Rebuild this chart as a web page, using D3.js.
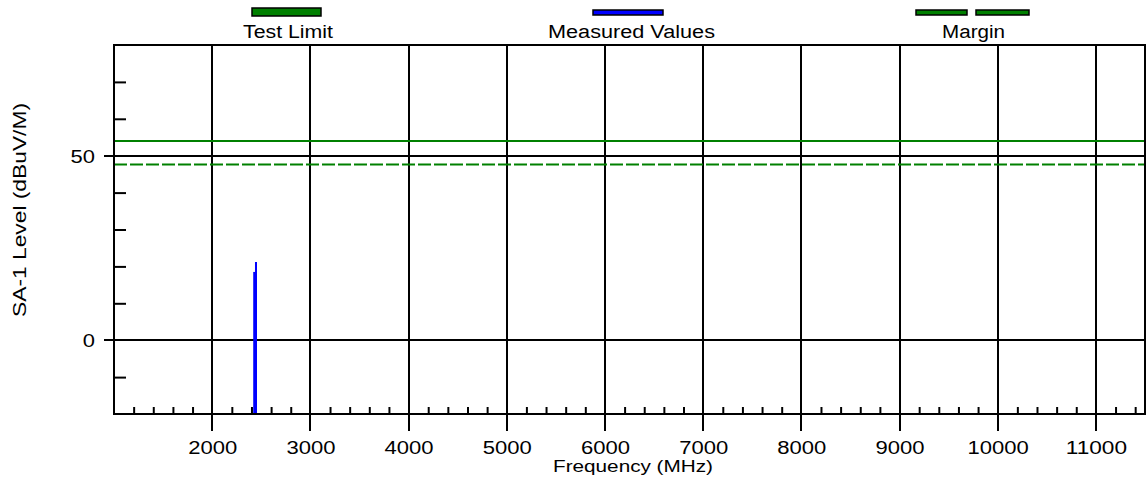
<!DOCTYPE html>
<html>
<head>
  <script src="https://d3js.org/d3.v7.min.js"></script>
  <style>
    body { margin: 0; background: #fff; overflow: hidden; }
    svg { display: block; }
    text { font-family: Arial, "Liberation Sans", sans-serif; fill: #000; }
  </style>
  <title>SA-1 Level</title>
</head>
<body>
  <script>
    // Data
    const freqTicks = [2000, 3000, 4000, 5000, 6000, 7000, 8000, 9000, 10000, 11000];
    const levelLabels = [0, 50];
    const levelMinor = [-10, 10, 20, 30, 40, 60, 70];
    const measuredFreq = [2428, 2446];
    const measuredLevel = [18.5, 21.2];
    const testLimit = [54];
    const marginLimit = [47.6];
    const legendNames = ["Test Limit", "Measured Values", "Margin"];

    const W = 1146, H = 482;
    const margin = { top: 45, right: 1, bottom: 68, left: 114 };
    const width = W - margin.left - margin.right;
    const height = H - margin.top - margin.bottom;

    const x = d3.scaleLinear().domain([1000, 11500]).range([0, width]);
    const y = d3.scaleLinear().domain([-20, 80]).range([height, 0]);

    const root = d3.select("body").append("svg")
      .attr("width", W)
      .attr("height", H);

    const svg = root.append("g")
      .attr("transform", "translate(" + margin.left + "," + margin.top + ")");

    // vertical grid lines (run down past the axis like long ticks)
    svg.selectAll(".vgrid")
      .data(freqTicks)
      .enter()
      .append("line")
      .attr("x1", d => Math.round(x(d)))
      .attr("x2", d => Math.round(x(d)))
      .attr("y1", 0)
      .attr("y2", height + 17)
      .attr("stroke", "#000")
      .attr("stroke-width", 2);

    // horizontal grid lines at labelled levels
    svg.selectAll(".hgrid")
      .data(levelLabels)
      .enter()
      .append("line")
      .attr("x1", -10)
      .attr("x2", width)
      .attr("y1", d => Math.round(y(d)))
      .attr("y2", d => Math.round(y(d)))
      .attr("stroke", "#000")
      .attr("stroke-width", 2);

    // minor ticks on x (inside, every 200 MHz)
    const xMinor = d3.range(1200, 11500, 200).filter(d => d % 1000 !== 0);
    svg.append("g")
      .attr("transform", "translate(0," + height + ")")
      .call(d3.axisBottom(x).tickValues(xMinor).tickSize(-7).tickFormat(""))
      .call(g => g.select(".domain").remove())
      .selectAll("line").attr("stroke-width", 2);

    // x labels
    const xAxis = svg.append("g")
      .attr("transform", "translate(0," + height + ")")
      .call(d3.axisBottom(x).tickValues(freqTicks).tickSize(0).tickPadding(0).tickFormat(d3.format("d")));
    xAxis.select(".domain").remove();
    xAxis.selectAll("text")
      .attr("y", 40)
      .attr("dy", 0)
      .style("font-size", "18px")
      .attr("textLength", d => String(d).length * 12.25)
      .attr("lengthAdjust", "spacingAndGlyphs");

    // minor ticks on y (inside)
    svg.append("g")
      .call(d3.axisRight(y).tickValues(levelMinor).tickSize(12).tickFormat(""))
      .call(g => g.select(".domain").remove())
      .selectAll("line").attr("stroke-width", 2);

    // y labels
    const yAxis = svg.append("g")
      .call(d3.axisLeft(y).tickValues(levelLabels).tickSize(0).tickPadding(0).tickFormat(d3.format("d")));
    yAxis.select(".domain").remove();
    yAxis.selectAll("text")
      .attr("x", -19)
      .attr("dy", "0.36em")
      .style("font-size", "18px")
      .attr("textLength", d => String(d).length * 12.2)
      .attr("lengthAdjust", "spacingAndGlyphs");

    // limit lines
    svg.selectAll(".limit")
      .data(testLimit)
      .enter()
      .append("line")
      .attr("x1", 0).attr("x2", width)
      .attr("y1", d => y(d)).attr("y2", d => y(d))
      .attr("stroke", "#008000")
      .attr("stroke-width", 2);

    svg.selectAll(".margin")
      .data(marginLimit)
      .enter()
      .append("line")
      .attr("x1", 0).attr("x2", width)
      .attr("y1", d => y(d)).attr("y2", d => y(d))
      .attr("stroke", "#008000")
      .attr("stroke-width", 2)
      .attr("stroke-dasharray", "13,3");

    // measured values (vertical bars from bottom)
    svg.selectAll(".meas")
      .data(measuredFreq)
      .enter()
      .append("line")
      .attr("x1", d => x(d)).attr("x2", d => x(d))
      .attr("y1", height)
      .attr("y2", (d, i) => y(measuredLevel[i]))
      .attr("stroke", "#0000ff")
      .attr("stroke-width", 2);

    // frame
    svg.append("rect")
      .attr("x", 0).attr("y", 0)
      .attr("width", width).attr("height", height)
      .attr("fill", "none")
      .attr("stroke", "#000")
      .attr("stroke-width", 2);

    // axis titles
    root.append("text")
      .attr("x", 633).attr("y", 472)
      .attr("text-anchor", "middle")
      .style("font-size", "17px")
      .attr("textLength", 160)
      .attr("lengthAdjust", "spacingAndGlyphs")
      .text("Frequency (MHz)");

    root.append("text")
      .attr("transform", "translate(26,210) rotate(-90)")
      .attr("text-anchor", "middle")
      .style("font-size", "18px")
      .attr("textLength", 214)
      .attr("lengthAdjust", "spacingAndGlyphs")
      .text("SA-1 Level (dBuV/M)");

    // legend
    const legendX = [288, 631.5, 973.5];
    const legendLen = [90, 167, 63];
    root.selectAll(".leg")
      .data(legendNames)
      .enter()
      .append("text")
      .attr("x", (d, i) => legendX[i])
      .attr("y", 38)
      .attr("text-anchor", "middle")
      .style("font-size", "18px")
      .attr("textLength", (d, i) => legendLen[i])
      .attr("lengthAdjust", "spacingAndGlyphs")
      .text(d => d);

    const swatches = [
      { x: 252, w: 69, y: 8, h: 8, c: "#008000" },
      { x: 593, w: 70, y: 10, h: 5, c: "#0000ff" },
      { x: 916, w: 51, y: 10, h: 5, c: "#008000" },
      { x: 976, w: 53, y: 10, h: 5, c: "#008000" }
    ];
    root.selectAll(".sw")
      .data(swatches)
      .enter()
      .append("rect")
      .attr("x", d => d.x).attr("y", d => d.y)
      .attr("width", d => d.w).attr("height", d => d.h)
      .attr("fill", d => d.c)
      .attr("stroke", "#000")
      .attr("stroke-width", 1.5);
  </script>
</body>
</html>
